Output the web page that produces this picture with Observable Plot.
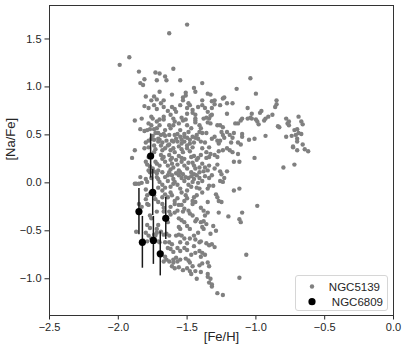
<!DOCTYPE html>
<html><head><meta charset="utf-8">
<script src="https://cdn.jsdelivr.net/npm/d3@7"></script>
<script src="https://cdn.jsdelivr.net/npm/@observablehq/plot@0.6"></script>
<style>
body{margin:0;background:#fff;}
#wrap{position:relative;width:407px;height:357px;font-family:"Liberation Sans",Arial,sans-serif;}
#legend{position:absolute;left:295px;top:275px;width:93px;height:36px;border:1px solid #d6d6d6;border-radius:3px;background:rgba(255,255,255,0.85);box-sizing:border-box;}
#legend svg{position:absolute;left:0;top:0;}
</style>
</head><body><div id="wrap"></div>
<script>
// NGC5139 stars: [Fe/H], [Na/Fe]
const ngc5139 = [
[-1.50,1.65],[-1.63,1.56],[-1.92,1.31],[-1.99,1.23],[-1.60,1.19],[-1.85,1.16],[-1.73,1.15],[-1.70,1.14],[-1.66,1.11],[-1.81,1.08],[-1.72,1.07],[-1.65,1.07],[-1.55,1.07],[-1.84,1.04],[-1.82,1.02],[-1.39,1.04],[-1.04,1.09],[-1.14,0.98],[-1.00,0.93],
[-1.70,0.95],[-1.51,0.94],[-1.51,0.91],[-1.45,0.99],[-1.44,0.95],[-1.61,0.92],[-1.35,0.93],[-1.33,0.92],[-1.24,0.88],[-1.23,0.89],[-1.74,0.90],[-1.72,0.87],[-1.80,0.90],[-1.76,0.86],[-1.53,0.89],[-1.53,0.86],[-1.67,0.86],[-1.39,0.86],[-1.32,0.85],[-1.30,0.86],
[-1.81,0.80],[-1.78,0.78],[-1.74,0.81],[-1.72,0.77],[-1.69,0.83],[-1.67,0.79],[-1.64,0.75],[-1.61,0.79],[-1.59,0.77],[-1.58,0.74],[-1.55,0.81],[-1.49,0.83],[-1.50,0.78],[-1.48,0.81],[-1.46,0.76],[-1.46,0.73],[-1.44,0.71],[-1.42,0.79],[-1.39,0.81],[-1.37,0.78],[-1.35,0.74],[-1.32,0.78],[-1.32,0.71],[-1.30,0.82],[-1.26,0.81],[-1.21,0.83],[-1.17,0.83],[-1.06,0.78],[-0.85,0.86],[-0.85,0.82],[-0.86,0.79],[-0.96,0.75],[-0.97,0.73],[-1.03,0.72],
[-1.88,0.65],[-1.83,0.67],[-1.76,0.69],[-1.75,0.67],[-1.72,0.64],[-1.70,0.66],[-1.67,0.69],[-1.67,0.66],[-1.70,0.60],[-1.72,0.57],[-1.74,0.56],[-1.76,0.60],[-1.60,0.67],[-1.59,0.64],[-1.56,0.62],[-1.63,0.60],[-1.62,0.57],[-1.54,0.68],[-1.53,0.65],[-1.51,0.66],[-1.50,0.60],[-1.44,0.67],[-1.44,0.65],[-1.41,0.60],[-1.40,0.57],[-1.38,0.67],[-1.36,0.68],[-1.34,0.67],[-1.33,0.70],[-1.35,0.63],[-1.33,0.62],[-1.26,0.60],[-1.24,0.58],[-1.11,0.65],[-1.13,0.62],[-1.10,0.67],[-1.06,0.67],[-1.04,0.68],[-1.03,0.67],[-1.00,0.66],[-0.99,0.64],[-0.98,0.61],[-0.93,0.67],[-0.91,0.69],[-0.94,0.65],[-0.88,0.71],[-0.78,0.67],[-0.77,0.62],[-0.76,0.60],[-0.76,0.64],[-0.69,0.69],[-0.67,0.64],[-0.66,0.61],[-0.93,0.49],[-0.84,0.59],[-0.83,0.58],
[-1.84,0.56],[-1.81,0.54],[-1.79,0.55],[-1.77,0.56],[-1.73,0.52],[-1.69,0.50],[-1.67,0.51],[-1.66,0.49],[-1.63,0.50],[-1.59,0.50],[-1.57,0.51],[-1.55,0.48],[-1.52,0.51],[-1.50,0.47],[-1.49,0.53],[-1.46,0.48],[-1.44,0.47],[-1.41,0.53],[-1.39,0.52],[-1.36,0.52],[-1.32,0.46],[-1.30,0.48],[-1.25,0.53],[-1.24,0.50],[-1.23,0.47],[-1.26,0.44],[-1.21,0.53],[-1.19,0.50],[-1.17,0.47],[-1.16,0.52],[-1.10,0.48],[-1.10,0.51],[-1.05,0.45],[-1.01,0.46],[-0.78,0.48],[-0.72,0.55],[-0.70,0.56],[-0.69,0.52],[-0.67,0.51],[-0.74,0.49],[-0.71,0.50],[-0.70,0.46],[-0.70,0.43],[-1.80,0.42],[-1.78,0.44],[-1.76,0.46],[-1.75,0.49],[-1.71,0.46],[-1.71,0.43],[-1.61,0.44],[-1.60,0.43],[-1.54,0.41],[-1.52,0.43],[-1.54,0.45],[-1.50,0.39],[-1.48,0.41],[-1.42,0.46],[-1.40,0.43],[-1.28,0.44],[-1.27,0.41],[-1.13,0.42],[-1.11,0.40],
[-1.88,0.34],[-1.81,0.36],[-1.78,0.37],[-1.74,0.39],[-1.73,0.35],[-1.74,0.32],[-1.69,0.39],[-1.66,0.36],[-1.64,0.39],[-1.62,0.34],[-1.60,0.36],[-1.59,0.32],[-1.56,0.38],[-1.54,0.35],[-1.53,0.32],[-1.50,0.36],[-1.48,0.33],[-1.46,0.37],[-1.39,0.36],[-1.36,0.32],[-1.34,0.37],[-1.27,0.33],[-1.24,0.34],[-1.21,0.36],[-1.19,0.34],[-1.17,0.32],[-1.33,0.30],[-1.30,0.29],[-1.28,0.27],[-0.73,0.38],[-0.73,0.37],[-0.70,0.34],[-0.66,0.40],[-0.645,0.35],[-0.62,0.33],[-1.90,0.26],[-1.76,0.29],[-1.78,0.27],[-1.69,0.29],[-1.67,0.27],[-1.63,0.29],[-1.61,0.26],[-1.56,0.28],[-1.54,0.26],[-1.47,0.27],[-1.45,0.28],[-1.42,0.26],[-1.40,0.29],[-1.36,0.26],[-1.34,0.27],[-1.01,0.26],
[-1.80,0.22],[-1.79,0.19],[-1.73,0.22],[-1.72,0.20],[-1.68,0.25],[-1.66,0.22],[-1.64,0.18],[-1.61,0.20],[-1.60,0.16],[-1.57,0.19],[-1.54,0.22],[-1.52,0.18],[-1.50,0.15],[-1.46,0.21],[-1.45,0.18],[-1.44,0.15],[-1.41,0.16],[-1.39,0.20],[-1.37,0.16],[-1.35,0.13],[-1.34,0.18],[-1.30,0.15],[-1.28,0.19],[-1.26,0.12],[-1.25,0.09],[-1.16,0.22],[-1.12,0.22],[-0.80,0.16],[-0.72,0.19],[-1.75,0.15],[-1.74,0.12],[-1.71,0.13],[-1.68,0.11],[-1.63,0.11],[-1.62,0.14],[-1.56,0.13],[-1.55,0.11],[-1.47,0.11],[-1.45,0.09],[-1.41,0.11],[-1.38,0.12],[-1.78,0.13],[-1.77,0.11],
[-1.84,0.06],[-1.87,-0.01],[-1.85,-0.01],[-1.83,0.00],[-1.88,-0.01],[-1.80,0.04],[-1.79,0.01],[-1.72,0.06],[-1.71,0.04],[-1.70,0.01],[-1.66,0.06],[-1.64,0.02],[-1.61,0.08],[-1.60,0.04],[-1.59,0.01],[-1.57,-0.02],[-1.56,0.08],[-1.54,0.05],[-1.52,0.02],[-1.51,0.06],[-1.47,0.07],[-1.45,0.04],[-1.43,0.08],[-1.41,0.05],[-1.39,0.02],[-1.37,0.07],[-1.34,0.05],[-1.32,0.08],[-1.26,0.02],[-1.24,0.01],[-1.23,0.05],[-1.71,-0.05],[-1.68,-0.02],[-1.62,-0.04],[-1.60,-0.01],[-1.49,-0.02],[-1.46,0.01],[-1.43,-0.05],
[-1.80,-0.07],[-1.77,-0.11],[-1.74,-0.13],[-1.79,-0.13],[-1.80,-0.17],[-1.68,-0.08],[-1.66,-0.12],[-1.64,-0.15],[-1.62,-0.10],[-1.61,-0.13],[-1.59,-0.19],[-1.54,-0.10],[-1.51,-0.13],[-1.50,-0.16],[-1.46,-0.19],[-1.45,-0.15],[-1.43,-0.13],[-1.41,-0.06],[-1.39,-0.10],[-1.35,-0.06],[-1.34,-0.03],[-1.29,-0.12],[-1.28,-0.15],[-1.27,-0.19],[-1.16,-0.08],[-1.12,-0.06],[-1.73,-0.17],[-1.71,-0.20],
[-1.85,-0.22],[-1.83,-0.25],[-1.78,-0.23],[-1.79,-0.22],[-1.68,-0.22],[-1.67,-0.26],[-1.59,-0.22],[-1.56,-0.23],[-1.54,-0.23],[-1.52,-0.27],[-1.49,-0.29],[-1.46,-0.22],[-1.44,-0.20],[-1.40,-0.26],[-1.38,-0.29],[-1.59,-0.31],[-1.57,-0.29],[-1.62,-0.33],[-1.63,-0.30],[-1.48,-0.32],[-1.46,-0.34],[-1.27,-0.31],[-1.25,-0.20],[-0.99,-0.24],[-1.67,-0.30],[-1.72,-0.30],[-1.37,-0.34],[-1.35,-0.31],[-1.10,-0.31],
[-1.77,-0.34],[-1.76,-0.37],[-1.66,-0.38],[-1.64,-0.41],[-1.56,-0.37],[-1.54,-0.39],[-1.52,-0.41],[-1.44,-0.40],[-1.43,-0.38],[-1.40,-0.41],[-1.38,-0.40],[-1.36,-0.43],[-1.20,-0.35],[-1.12,-0.38],[-1.11,-0.41],[-1.79,-0.44],[-1.77,-0.47],[-1.72,-0.48],[-1.71,-0.44],[-1.56,-0.46],[-1.55,-0.48],[-1.50,-0.45],[-1.48,-0.48],[-1.39,-0.46],[-1.38,-0.48],[-1.29,-0.50],
[-1.87,-0.51],[-1.80,-0.52],[-1.78,-0.55],[-1.74,-0.54],[-1.73,-0.55],[-1.69,-0.51],[-1.67,-0.54],[-1.65,-0.53],[-1.63,-0.55],[-1.56,-0.54],[-1.54,-0.55],[-1.52,-0.58],[-1.45,-0.55],[-1.44,-0.59],[-1.82,-0.60],[-1.79,-0.61],[-1.76,-0.58],[-1.71,-0.61],[-1.70,-0.62],[-1.63,-0.62],[-1.61,-0.64],[-1.41,-0.62],[-1.40,-0.61],[-1.36,-0.63],[-1.34,-0.65],[-1.32,-0.64],[-1.30,-0.67],
[-1.62,-0.69],[-1.60,-0.72],[-1.57,-0.68],[-1.55,-0.71],[-1.52,-0.68],[-1.50,-0.70],[-1.47,-0.75],[-1.44,-0.73],[-1.41,-0.71],[-1.39,-0.73],[-1.37,-0.75],[-1.58,-0.78],[-1.60,-0.80],[-1.55,-0.80],[-1.51,-0.79],[-1.49,-0.81],[-1.07,-0.75],[-1.66,-0.77],[-1.65,-0.80],
[-1.67,-0.82],[-1.63,-0.82],[-1.60,-0.83],[-1.57,-0.82],[-1.48,-0.83],[-1.46,-0.87],[-1.41,-0.86],[-1.39,-0.84],[-1.35,-0.83],[-1.34,-0.87],[-1.56,-0.88],[-1.53,-0.91],[-1.50,-0.89],[-1.48,-0.92],[-1.59,-0.89],[-1.61,-0.87],[-1.47,-0.95],[-1.44,-0.92],[-1.40,-0.93],[-1.43,-1.00],[-1.35,-0.98],[-1.33,-1.00],[-1.35,-0.95],[-1.32,-1.06],[-1.34,-1.04],[-1.32,-1.08],[-1.28,-1.15],[-1.24,-1.17],[-1.12,-0.99],
[-1.70,0.45],[-1.68,0.42],[-1.65,0.44],[-1.63,0.40],[-1.58,0.46],[-1.57,0.43],[-1.52,0.48],[-1.48,0.45],[-1.45,0.42],[-1.43,0.50],[-1.62,0.24],[-1.58,0.24],[-1.52,0.25],[-1.49,0.21],[-1.43,0.24],[-1.64,0.08],[-1.58,0.10],[-1.53,0.09],[-1.49,0.05],[-1.42,0.00],[-1.60,0.60],[-1.55,0.55],[-1.47,0.57],[-1.66,0.55],[-1.71,0.52],[-1.68,0.34],[-1.72,0.10],[-1.70,0.18],[-1.66,-0.05],[-1.55,-0.06],[-1.50,-0.08],[-1.47,-0.04],[-1.52,-0.19],[-1.57,-0.16],[-1.48,-0.58],[-1.42,-0.52],[-1.33,-0.53],[-1.31,-0.45],[-1.35,-0.20],[-1.31,-0.03],[-1.21,0.12],[-1.18,0.42],[-1.13,0.30],[-1.37,0.42],[-1.28,0.60],[-1.21,0.72],[-1.15,0.62],[-1.44,0.63],[-1.50,0.72],[-1.62,0.71],[-1.78,0.62],[-1.74,0.45],[-1.77,0.17],[-1.76,0.05],[-1.68,-0.15],[-1.62,-0.25],[-1.53,-0.30],[-1.58,-0.55],[-1.50,-0.63],[-1.45,-0.66],[-1.40,-0.77],[-1.55,-0.62],[-1.64,-0.68],[-1.66,-0.62],[-1.72,-0.52]
];

// NGC6809 stars with error bars
const ngc6809Feh  = [-1.85, -1.825, -1.765, -1.75, -1.745, -1.695, -1.655];
const ngc6809Nafe = [-0.30, -0.62, 0.28, -0.10, -0.60, -0.74, -0.37];
const ngc6809Err  = [0.24, 0.27, 0.23, 0.24, 0.25, 0.23, 0.22];

const xTicks = [-2.5, -2.0, -1.5, -1.0, -0.5, 0.0];
const yTicks = [-1.0, -0.5, 0.0, 0.5, 1.0, 1.5];
const seriesNames = ["NGC5139", "NGC6809"];

const gray = ngc5139.map(([feh, nafe]) => ({feh, nafe}));
const black = ngc6809Feh.map((feh, i) => ({feh, nafe: ngc6809Nafe[i], lo: ngc6809Nafe[i] - ngc6809Err[i], hi: ngc6809Nafe[i] + ngc6809Err[i]}));

const fmt = d3.format(".1f");
const plot = Plot.plot({
  width: 407, height: 357,
  marginLeft: 49, marginRight: 14, marginTop: 5, marginBottom: 42,
  style: {fontFamily: '"Liberation Sans", Arial, sans-serif', color: "#262626", background: "#fff"},
  x: {domain: [-2.5, 0], label: null},
  y: {domain: [-1.383, 1.849], label: null},
  marks: [
    Plot.axisX({ticks: xTicks, tickFormat: fmt, tickSize: 4.5, tickPadding: 3, fontSize: 11, label: null}),
    Plot.axisY({ticks: yTicks, tickFormat: fmt, tickSize: 4.5, tickPadding: 3.5, fontSize: 11, label: null}),
    Plot.dot(gray, {x: "feh", y: "nafe", r: 2.2, fill: "#808080", stroke: null}),
    Plot.ruleX(black, {x: "feh", y1: "lo", y2: "hi", stroke: "#1a1a1a", strokeWidth: 1.5}),
    Plot.dot(black, {x: "feh", y: "nafe", r: 3.6, fill: "#000", stroke: null}),
    Plot.frame({stroke: "#333", strokeWidth: 1}),
    Plot.text(["[Fe/H]"], {text: d => d, frameAnchor: "bottom", dy: 25, fontSize: 13, fill: "#262626"}),
    Plot.text(["[Na/Fe]"], {text: d => d, frameAnchor: "left", dx: -39, rotate: -90, fontSize: 13, fill: "#262626"})
  ]
});
const wrap = document.getElementById("wrap");
wrap.append(plot);

const leg = document.createElement("div");
leg.id = "legend";
leg.innerHTML = `<svg width="93" height="36">
  <circle cx="16" cy="10.5" r="2.2" fill="#808080"></circle>
  <text x="84" y="14.5" text-anchor="end" font-size="11.5" fill="#262626" font-family="Liberation Sans, Arial, sans-serif">${seriesNames[0]}</text>
  <circle cx="16" cy="25.7" r="3.6" fill="#000"></circle>
  <text x="87" y="29.7" text-anchor="end" font-size="11.5" fill="#262626" font-family="Liberation Sans, Arial, sans-serif">${seriesNames[1]}</text>
</svg>`;
wrap.append(leg);
</script>
</body></html>
